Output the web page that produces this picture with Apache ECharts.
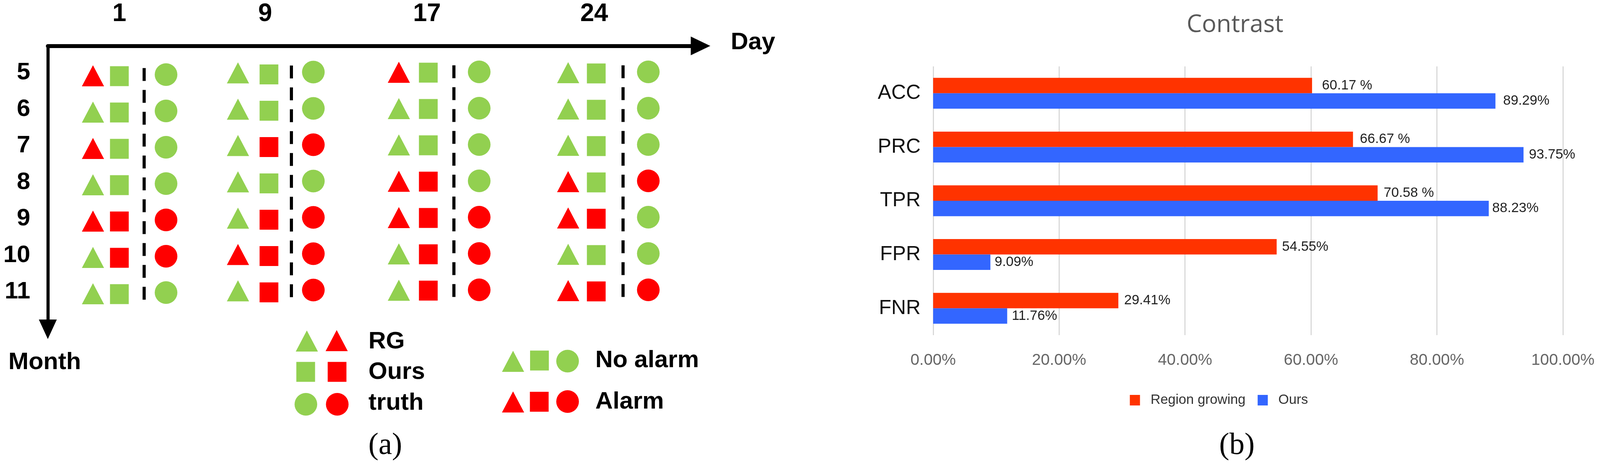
<!DOCTYPE html>
<html>
<head>
<meta charset="utf-8">
<title>Contrast</title>
<script src="https://cdn.jsdelivr.net/npm/echarts@6/dist/echarts.min.js"></script>
<style>
  html, body { margin: 0; padding: 0; background: #fff; }
  #chart { width: 100%; height: 100vh; }
</style>
</head>
<body>
<div id="chart"></div>
<script>
// panel (a): alarm flags, one row per day, one entry per month
var days = ['1', '9', '17', '24'];
var months = [5, 6, 7, 8, 9, 10, 11];
var methods = ['RG', 'Ours', 'sep', 'truth'];
var alarmRG = [
  [1, 0, 1, 0, 1, 0, 0],
  [0, 0, 0, 0, 0, 1, 0],
  [1, 0, 0, 1, 1, 0, 0],
  [0, 0, 0, 1, 1, 0, 1]
];
var alarmOurs = [
  [0, 0, 0, 0, 1, 1, 0],
  [0, 0, 1, 0, 1, 1, 1],
  [0, 0, 0, 1, 1, 1, 1],
  [0, 0, 0, 0, 1, 0, 1]
];
var alarmTruth = [
  [0, 0, 0, 0, 1, 1, 0],
  [0, 0, 1, 0, 1, 1, 1],
  [0, 0, 0, 0, 1, 1, 1],
  [0, 0, 0, 1, 0, 0, 1]
];

// panel (b)
var metrics = ['ACC', 'PRC', 'TPR', 'FPR', 'FNR'];
var regionGrowing = [60.17, 66.67, 70.58, 54.55, 29.41];
var ours = [89.29, 93.75, 88.23, 9.09, 11.76];
var regionLabels = ['60.17 %', '66.67 %', '70.58 %', '54.55%', '29.41%'];
var oursLabels = ['89.29%', '93.75%', '88.23%', '9.09%', '11.76%'];

// layout only, in pixels of the 4182 wide reference; X() fits them to the window
var sx = window.innerWidth / 4182;
function X(v) { return v * sx; }
var GREEN = '#92D050', RED = '#FF0000', SANS = '"Liberation Sans"', SERIF = '"Liberation Serif"';
var columns = [
  { dash: 376, slot: 58, top: 144.5, rg: [-17, 3], ours: [-6, 4], label: 312 },
  { dash: 761, slot: 58, top: 138, rg: [-23, 2], ours: [0, 6], label: 693 },
  { dash: 1186.5, slot: 66, top: 137.5, rg: [-12, 1], ours: [-1, 2], label: 1116 },
  { dash: 1628, slot: 66.5, top: 137.5, rg: [-10, 2], ours: [-3, 4], label: 1553 }
];
var regionGap = [26, 18, 16, 14, 15];
var oursGap = [20, 14, 9, 11, 12];

var grids = [{ left: X(125), top: 117.5, width: X(1706), height: 725.5 }];
var xAxes = [{
  gridIndex: 0, type: 'value', min: 0, max: 1, position: 'top',
  axisLine: { onZero: false, symbol: ['none', 'triangle'], symbolSize: [48, 50], lineStyle: { color: '#000', width: 10 } },
  axisTick: { show: false }, axisLabel: { show: false }, splitLine: { show: false }
}];
var yAxes = [{
  gridIndex: 0, type: 'value', inverse: true, min: 4.267, max: 12.027,
  axisLine: { show: true, onZero: false, symbol: ['triangle', 'none'], symbolSize: [46, 50], lineStyle: { color: '#000', width: 8 } },
  axisTick: { show: false }, splitLine: { show: false },
  axisLabel: {
    customValues: months, margin: 45,
    color: '#000', fontFamily: SANS, fontWeight: 'bold', fontSize: 62
  }
}];
var series = [];

function marks(flags, method) {
  return flags.map(function (f, i) {
    return { value: [method, months[i]], itemStyle: { color: f ? RED : GREEN, opacity: 1 } };
  });
}

columns.forEach(function (c, d) {
  var idx = d + 1;
  grids.push({ left: X(c.dash - 2.5 * c.slot), width: X(4 * c.slot), top: c.top, height: 651 });
  xAxes.push({ gridIndex: idx, type: 'category', data: methods, show: false });
  yAxes.push({ gridIndex: idx, type: 'value', inverse: true, min: 4.5, max: 11.5, show: false });
  series.push({
    type: 'scatter', xAxisIndex: idx, yAxisIndex: idx, silent: true,
    symbol: 'triangle', symbolSize: [X(58), 54], symbolOffset: [X(c.rg[0]), c.rg[1]], data: marks(alarmRG[d], 'RG')
  });
  series.push({
    type: 'scatter', xAxisIndex: idx, yAxisIndex: idx, silent: true,
    symbol: 'rect', symbolSize: [X(49), 51], symbolOffset: [X(c.ours[0]), c.ours[1]], data: marks(alarmOurs[d], 'Ours')
  });
  series.push({
    type: 'scatter', xAxisIndex: idx, yAxisIndex: idx, silent: true,
    symbol: 'circle', symbolSize: 58, data: marks(alarmTruth[d], 'truth'),
    markLine: {
      silent: true, symbol: 'none', animation: false, label: { show: false },
      lineStyle: { color: '#000', width: 8, type: [33, 23] },
      data: [[{ coord: ['sep', 4.82] }, { coord: ['sep', 11.3] }]]
    }
  });
});

// panel (b) grid
var barGrid = grids.length;
grids.push({ left: X(2439), top: 170, width: X(1646), height: 688 });
xAxes.push({
  gridIndex: barGrid, type: 'value', min: 0, max: 100, interval: 20,
  axisLine: { show: false }, axisTick: { show: false },
  axisLabel: {
    margin: 44, color: '#666', fontFamily: SANS, fontSize: 41,
    formatter: function (v) { return v.toFixed(2) + '%'; }
  },
  splitLine: { lineStyle: { color: '#D2D2D2', width: 2.5 } }
});
yAxes.push({
  gridIndex: barGrid, type: 'category', inverse: true, data: metrics,
  axisLine: { show: false }, axisTick: { show: false },
  axisLabel: { margin: 32, color: '#111', fontFamily: SANS, fontSize: 52 }
});

function barData(values, texts, gaps) {
  return values.map(function (v, i) {
    return {
      value: v,
      label: { show: true, position: 'right', distance: X(gaps[i]), formatter: texts[i], color: '#222', fontFamily: SANS, fontSize: 35 }
    };
  });
}
series.push({
  name: 'Region growing', type: 'bar', xAxisIndex: barGrid, yAxisIndex: barGrid,
  barWidth: 39.5, barGap: 0, itemStyle: { color: '#FF3300' },
  data: barData(regionGrowing, regionLabels, regionGap)
});
series.push({
  name: 'Ours', type: 'bar', xAxisIndex: barGrid, yAxisIndex: barGrid,
  barWidth: 39.5, barGap: 0, itemStyle: { color: '#3366FF' },
  data: barData(ours, oursLabels, oursGap)
});

// hand-drawn key and free labels of panel (a)
function text(str, x, y, font, align, fill) {
  return {
    type: 'text', silent: true,
    style: { text: str, x: X(x), y: y, font: font, fill: fill || '#000', textAlign: align || 'left', textVerticalAlign: 'middle' }
  };
}
function triangle(x, y, color) {
  return { type: 'polygon', silent: true, shape: { points: [[X(x), y - 27], [X(x + 29), y + 27], [X(x - 29), y + 27]] }, style: { fill: color } };
}
function square(x, y, color) {
  return { type: 'rect', silent: true, shape: { x: X(x - 25), y: y - 26, width: X(49), height: 51 }, style: { fill: color } };
}
function dot(x, y, color) {
  return { type: 'circle', silent: true, shape: { cx: X(x), cy: y, r: 29 }, style: { fill: color } };
}
var boldFont = 'bold 62px ' + SANS;
var graphics = [
  triangle(802, 873, GREEN), triangle(880, 872, RED),
  square(799.5, 952.5, GREEN), square(881.5, 952.5, RED),
  dot(799.5, 1035, GREEN), dot(881.5, 1035, RED),
  triangle(1341, 925, GREEN), square(1410.5, 923.5, GREEN), dot(1483.5, 924.5, GREEN),
  triangle(1341, 1029, RED), square(1410, 1029, RED), dot(1483.5, 1028, RED),
  text('RG', 963, 875, boldFont), text('Ours', 963, 953, boldFont), text('truth', 963, 1032, boldFont),
  text('No alarm', 1556, 923, boldFont), text('Alarm', 1556, 1029, boldFont),
  text('Day', 1910, 109, boldFont), text('Month', 22, 928, boldFont),
  text('(a)', 1007, 1142, '78px ' + SERIF, 'center'), text('(b)', 3233, 1142, '78px ' + SERIF, 'center')
];
days.forEach(function (day, d) {
  graphics.push(text(day, columns[d].label, 36, 'bold 64px ' + SANS, 'center'));
});

var chart = echarts.init(document.getElementById('chart'));
chart.setOption({
  animation: false,
  backgroundColor: '#fff',
  title: {
    text: 'Contrast', left: X(3223), top: 28, textAlign: 'center',
    textStyle: { color: '#595959', fontFamily: '"Open Sans"', fontWeight: 'normal', fontSize: 62 }
  },
  legend: {
    data: ['Region growing', 'Ours'], left: X(2948), top: 1002, icon: 'rect',
    itemWidth: 26, itemHeight: 27, itemGap: 31,
    textStyle: { color: '#333', fontFamily: SANS, fontSize: 35, padding: [0, 0, 0, 22] }
  },
  grid: grids,
  xAxis: xAxes,
  yAxis: yAxes,
  series: series,
  graphic: graphics
});
</script>
</body>
</html>
